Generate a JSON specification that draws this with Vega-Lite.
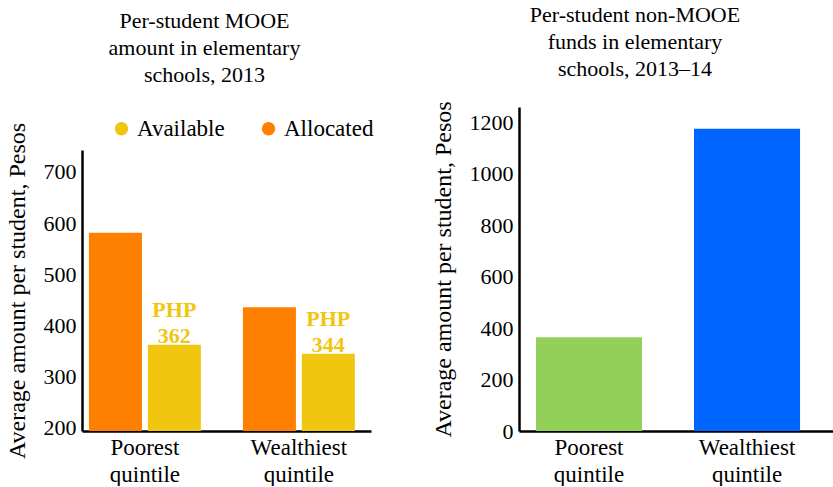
{
  "$schema": "https://vega.github.io/schema/vega-lite/v6.json",
  "padding": {"left": 5, "top": 3, "right": 0, "bottom": 0},
  "background": "white",
  "config": {
    "view": {"stroke": null},
    "font": "Liberation Serif",
    "title": {"fontSize": 22, "fontWeight": "normal", "lineHeight": 27, "color": "#000", "anchor": "middle", "offset": 20, "font": "Liberation Serif"},
    "axis": {"domainColor": "#000", "domainWidth": 2.5, "ticks": false, "grid": false, "labelFont": "Liberation Serif", "labelFontSize": 22, "labelColor": "#000", "titleFont": "Liberation Serif", "titleFontSize": 24, "titleFontWeight": "normal", "titleColor": "#000"},
    "concat": {"spacing": 57}
  },
  "resolve": {"scale": {"color": "independent"}, "legend": {"color": "independent"}},
  "hconcat": [
    {
      "width": 289,
      "height": 324,
      "title": {"text": ["Per-student MOOE", "amount in elementary", "schools, 2013"], "dx": -22},
      "data": {"values": [
        {"quintile": "Poorest quintile", "type": "Allocated", "amount": 581, "label": ""},
        {"quintile": "Poorest quintile", "type": "Available", "amount": 362, "label": "PHP 362"},
        {"quintile": "Wealthiest quintile", "type": "Allocated", "amount": 435, "label": ""},
        {"quintile": "Wealthiest quintile", "type": "Available", "amount": 344, "label": "PHP 344"}
      ]},
      "encoding": {
        "x": {"field": "quintile", "type": "nominal", "sort": null,
          "scale": {"paddingInner": 0.273, "paddingOuter": 0.075, "align": 0.3},
          "axis": {"title": null, "labelAngle": 0, "labelExpr": "split(datum.label, ' ')", "labelPadding": 5, "labelLineHeight": 27, "labelFontSize": 23}},
        "xOffset": {"field": "type", "type": "nominal", "sort": ["Allocated", "Available"], "scale": {"paddingInner": 0.1, "paddingOuter": 0}},
        "y": {"field": "amount", "type": "quantitative",
          "scale": {"domain": [193, 743], "nice": false, "zero": false, "range": [324, 43]},
          "axis": {"title": "Average amount per student, Pesos", "values": [200, 300, 400, 500, 600, 700], "labelPadding": 6, "titlePadding": 14}}
      },
      "layer": [
        {
          "mark": {"type": "bar", "clip": true},
          "encoding": {
            "color": {"field": "type", "type": "nominal",
              "scale": {"domain": ["Available", "Allocated"], "range": ["#f0c60f", "#ff8000"]},
              "legend": {"orient": "none", "legendX": 28, "legendY": 10, "direction": "horizontal", "title": null, "symbolType": "circle", "symbolSize": 180, "labelFontSize": 23, "labelFont": "Liberation Serif", "labelColor": "#000", "columnPadding": 32, "labelOffset": 4, "symbolStrokeWidth": 0}}
          }
        },
        {
          "mark": {"type": "text", "lineBreak": " ", "baseline": "bottom", "dy": -23, "fontWeight": "bold", "fontSize": 22, "lineHeight": 26, "color": "#f0c60f"},
          "encoding": {"text": {"field": "label"}}
        }
      ]
    },
    {
      "width": 314,
      "height": 324,
      "title": {"text": ["Per-student non-MOOE", "funds in elementary", "schools, 2013–14"], "dx": -41},
      "data": {"values": [
        {"quintile": "Poorest quintile", "amount": 365},
        {"quintile": "Wealthiest quintile", "amount": 1175}
      ]},
      "mark": "bar",
      "encoding": {
        "x": {"field": "quintile", "type": "nominal", "sort": null,
          "scale": {"paddingInner": 0.329, "paddingOuter": 0.158, "align": 0.34},
          "axis": {"title": null, "labelAngle": 0, "labelExpr": "split(datum.label, ' ')", "labelPadding": 5, "labelLineHeight": 27, "labelFontSize": 23}},
        "y": {"field": "amount", "type": "quantitative",
          "scale": {"domain": [0, 1260], "nice": false},
          "axis": {"title": "Average amount per student, Pesos", "format": "d", "values": [0, 200, 400, 600, 800, 1000, 1200], "labelPadding": 6, "titlePadding": 14}},
        "color": {"field": "quintile", "type": "nominal", "scale": {"domain": ["Poorest quintile", "Wealthiest quintile"], "range": ["#92d05a", "#0064ff"]}, "legend": null}
      }
    }
  ]
}
